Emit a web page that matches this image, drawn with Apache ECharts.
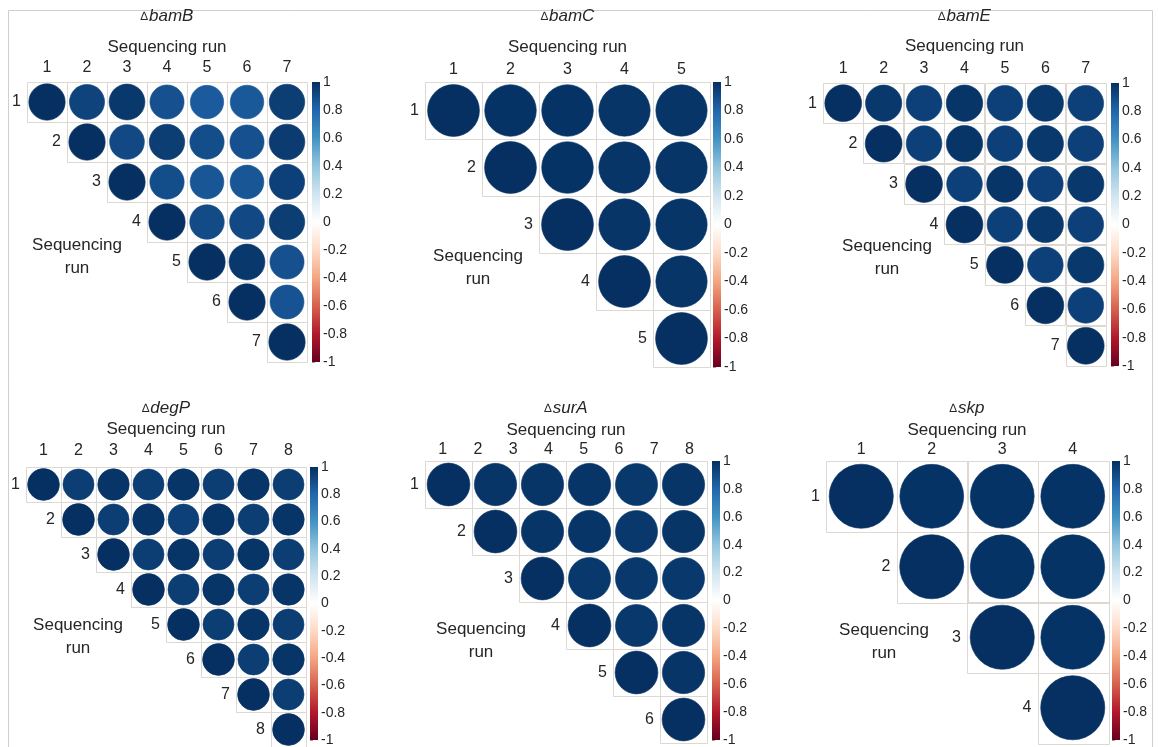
<!DOCTYPE html>
<html>
<head>
<meta charset="utf-8">
<script src="https://cdn.jsdelivr.net/npm/echarts@6/dist/echarts.min.js"></script>
<style>
  html, body { margin: 0; padding: 0; background: #fff; }
  #chart { width: 1158px; height: 747px; }
</style>
</head>
<body>
<div id="chart"></div>
<script>
// Pearson correlation between sequencing runs, upper triangle.
// Each inner list is one row, starting at the diagonal.
const bamB = [
  [1, 0.93, 0.97, 0.88, 0.84, 0.85, 0.95],
  [1, 0.91, 0.95, 0.89, 0.88, 0.96],
  [1, 0.89, 0.86, 0.86, 0.94],
  [1, 0.90, 0.91, 0.95],
  [1, 0.97, 0.88],
  [1, 0.87],
  [1]
];
const bamC = [
  [1, 0.99, 0.99, 0.98, 0.98],
  [1, 0.99, 0.98, 0.98],
  [1, 0.98, 0.98],
  [1, 0.98],
  [1]
];
const bamE = [
  [1, 0.97, 0.94, 0.98, 0.94, 0.97, 0.94],
  [1, 0.94, 0.98, 0.94, 0.97, 0.94],
  [1, 0.94, 0.98, 0.94, 0.97],
  [1, 0.94, 0.97, 0.94],
  [1, 0.94, 0.97],
  [1, 0.94],
  [1]
];
const degP = [
  [1, 0.95, 0.98, 0.95, 0.98, 0.95, 0.98, 0.95],
  [1, 0.95, 0.98, 0.94, 0.98, 0.95, 0.98],
  [1, 0.95, 0.98, 0.95, 0.98, 0.95],
  [1, 0.95, 0.98, 0.95, 0.98],
  [1, 0.95, 0.98, 0.95],
  [1, 0.95, 0.98],
  [1, 0.95],
  [1]
];
const surA = [
  [1, 0.98, 0.98, 0.98, 0.97, 0.98],
  [1, 0.98, 0.98, 0.97, 0.98],
  [1, 0.97, 0.97, 0.97],
  [1, 0.97, 0.98],
  [1, 0.98],
  [1]
];
const skp = [
  [1, 0.99, 0.99, 0.99],
  [1, 0.99, 0.99],
  [1, 0.99],
  [1]
];

// tick labels along the top of each panel
const colLabels = {
  bamB: ['1', '2', '3', '4', '5', '6', '7'],
  bamC: ['1', '2', '3', '4', '5'],
  bamE: ['1', '2', '3', '4', '5', '6', '7'],
  degP: ['1', '2', '3', '4', '5', '6', '7', '8'],
  surA: ['1', '2', '3', '4', '5', '6', '7', '8'],
  skp: ['1', '2', '3', '4']
};
// tick labels beside the diagonal
const rowLabels = {
  bamB: ['1', '2', '3', '4', '5', '6', '7'],
  bamC: ['1', '2', '3', '4', '5'],
  bamE: ['1', '2', '3', '4', '5', '6', '7'],
  degP: ['1', '2', '3', '4', '5', '6', '7', '8'],
  surA: ['1', '2', '3', '4', '5', '6'],
  skp: ['1', '2', '3', '4']
};
const strains = ['bamB', 'bamC', 'bamE', 'degP', 'surA', 'skp'];
const matrices = { bamB, bamC, bamE, degP, surA, skp };
const axisTitle = 'Sequencing run';
const scaleMin = -1, scaleMax = 1, scaleStep = 0.2;

// diverging red-blue palette, from -1 to 1
const rdbu = ['#67001F', '#B2182B', '#D6604D', '#F4A582', '#FDDBC7', '#FFFFFF',
              '#D1E5F0', '#92C5DE', '#4393C3', '#2166AC', '#053061'];

// panel placement (pixels)
const layout = [
  { left: 27,  top: 82,  size: 280, bar: 312,  titleY: 16,  seqY: 47,  labGap: 6,  side: [77, 257] },
  { left: 425, top: 82,  size: 285, bar: 713,  titleY: 16,  seqY: 47,  labGap: 4,  side: [478, 268] },
  { left: 823, top: 83,  size: 283, bar: 1111, titleY: 16,  seqY: 46,  labGap: 6,  side: [887, 258] },
  { left: 26,  top: 467, size: 280, bar: 310,  titleY: 408, seqY: 429, labGap: 8,  side: [78, 637] },
  { left: 425, top: 461, size: 282, bar: 712,  titleY: 408, seqY: 430, labGap: 3,  side: [481, 641] },
  { left: 826, top: 461, size: 282, bar: 1112, titleY: 408, seqY: 430, labGap: 3,  side: [884, 642] }
];

const FONT = '"Liberation Sans", Arial, Helvetica, sans-serif';
const TXT = '#262626';

const grid = [], xAxis = [], yAxis = [], series = [], graphic = [], circleSeries = [];

// frame around the figure
graphic.push({
  type: 'rect', silent: true, z: -1,
  shape: { x: 8.5, y: 10.5, width: 1144, height: 760 },
  style: { fill: 'none', stroke: '#cfcfcf', lineWidth: 1 }
});

strains.forEach((name, p) => {
  const L = layout[p];
  const m = matrices[name];
  const n = m.length;
  const gCell = 2 * p, gBar = 2 * p + 1;
  const xCell = 3 * p, xTop = 3 * p + 1, xBar = 3 * p + 2;
  const yCell = 2 * p, yBar = 2 * p + 1;

  grid.push({ left: L.left, top: L.top, width: L.size, height: L.size });
  grid.push({ left: L.bar, top: L.top, width: 8, height: L.size });

  xAxis.push({ type: 'value', gridIndex: gCell, min: 0, max: n, show: false });
  xAxis.push({
    type: 'category', gridIndex: gCell, position: 'top', data: colLabels[name],
    boundaryGap: true, axisLine: { show: false }, axisTick: { show: false },
    axisLabel: { fontSize: 16, color: TXT, fontFamily: FONT, margin: L.labGap, interval: 0 },
    splitLine: { show: false }
  });
  xAxis.push({ type: 'value', gridIndex: gBar, min: 0, max: 1, show: false });

  yAxis.push({ type: 'value', gridIndex: gCell, min: 0, max: n, inverse: true, show: false });
  yAxis.push({
    type: 'value', gridIndex: gBar, min: scaleMin, max: scaleMax, interval: scaleStep,
    position: 'right',
    axisLine: { show: false },
    axisTick: { show: true, length: 3, lineStyle: { color: '#9a9a9a' } },
    splitLine: { show: false },
    axisLabel: { fontSize: 14, color: TXT, fontFamily: FONT, margin: 3 }
  });

  const cells = [], dots = [], rows = [];
  m.forEach((row, i) => {
    row.forEach((v, k) => {
      const j = i + k;
      cells.push([j, i]);
      dots.push([j + 0.5, i + 0.5, v]);
    });
    rows.push([i, i + 0.5, rowLabels[name][i]]);
  });

  // cell outlines
  series.push({
    type: 'custom', xAxisIndex: xCell, yAxisIndex: yCell, silent: true,
    encode: { x: 0, y: 1 }, data: cells,
    renderItem: (params, api) => {
      const a = api.coord([api.value(0), api.value(1)]);
      const b = api.coord([api.value(0) + 1, api.value(1) + 1]);
      return {
        type: 'rect',
        shape: { x: Math.round(Math.min(a[0], b[0])) + 0.5, y: Math.round(Math.min(a[1], b[1])) + 0.5,
                 width: Math.round(Math.abs(b[0] - a[0])), height: Math.round(Math.abs(b[1] - a[1])) },
        style: { fill: 'none', stroke: '#ddd8d2', lineWidth: 1 }
      };
    }
  });

  // correlation circles: area follows |r|, colour from the palette
  circleSeries.push(series.length);
  series.push({
    type: 'custom', xAxisIndex: xCell, yAxisIndex: yCell, silent: true,
    encode: { x: 0, y: 1 }, dimensions: ['x', 'y', 'r'], data: dots,
    renderItem: (params, api) => {
      const c = api.coord([api.value(0), api.value(1)]);
      const s = api.size([1, 1]);
      const rad = Math.min(s[0], s[1]) * 0.455 * Math.sqrt(Math.abs(api.value(2)));
      const col = api.visual('color');
      return {
        type: 'circle',
        shape: { cx: c[0], cy: c[1], r: rad },
        style: { fill: col, stroke: col, lineWidth: 0.6 }
      };
    }
  });

  // run numbers beside the diagonal
  series.push({
    type: 'custom', xAxisIndex: xCell, yAxisIndex: yCell, silent: true,
    encode: { x: 0, y: 1 }, data: rows,
    renderItem: (params, api) => {
      const c = api.coord([api.value(0), api.value(1)]);
      return {
        type: 'text', x: c[0] - 6, y: c[1],
        style: { text: String(rows[params.dataIndex][2]), fill: TXT, fontSize: 16,
                 fontFamily: FONT, align: 'right', verticalAlign: 'middle' }
      };
    }
  });

  // colour bar
  series.push({
    type: 'custom', xAxisIndex: xBar, yAxisIndex: yBar, silent: true,
    encode: { x: 0, y: [1, 2] }, data: [[0, scaleMin, scaleMax]],
    renderItem: (params, api) => {
      const a = api.coord([0, api.value(2)]);
      const b = api.coord([1, api.value(1)]);
      const stops = rdbu.map((c, k) => ({ offset: 1 - k / (rdbu.length - 1), color: c })).reverse();
      return {
        type: 'rect',
        shape: { x: a[0], y: a[1], width: b[0] - a[0], height: b[1] - a[1] },
        style: { fill: new echarts.graphic.LinearGradient(0, 0, 0, 1, stops) }
      };
    }
  });

  const cx = L.left + L.size / 2;
  // panel title: Δ + italic strain name
  graphic.push({
    type: 'text', x: cx, y: L.titleY, silent: true,
    style: {
      text: '{d|\u2206}{g|' + name + '}', align: 'center', verticalAlign: 'middle',
      rich: {
        d: { fontSize: 12, fontFamily: FONT, fill: TXT, padding: [2, 1, 0, 0] },
        g: { fontSize: 17, fontFamily: FONT, fontStyle: 'italic', fill: TXT }
      }
    }
  });
  // axis titles
  graphic.push({
    type: 'text', x: cx, y: L.seqY, silent: true,
    style: { text: axisTitle, fontSize: 17, fontFamily: FONT, fill: TXT, align: 'center', verticalAlign: 'middle' }
  });
  graphic.push({
    type: 'text', x: L.side[0], y: L.side[1], silent: true,
    style: { text: 'Sequencing\nrun', fontSize: 17, lineHeight: 23, fontFamily: FONT, fill: TXT,
             align: 'center', verticalAlign: 'middle' }
  });
});

const chart = echarts.init(document.getElementById('chart'), null, { renderer: 'canvas' });
chart.setOption({
  backgroundColor: '#ffffff',
  animation: false,
  grid, xAxis, yAxis, series, graphic,
  visualMap: {
    type: 'continuous', show: false, min: scaleMin, max: scaleMax, dimension: 2,
    seriesIndex: circleSeries, inRange: { color: rdbu }
  }
});
</script>
</body>
</html>
